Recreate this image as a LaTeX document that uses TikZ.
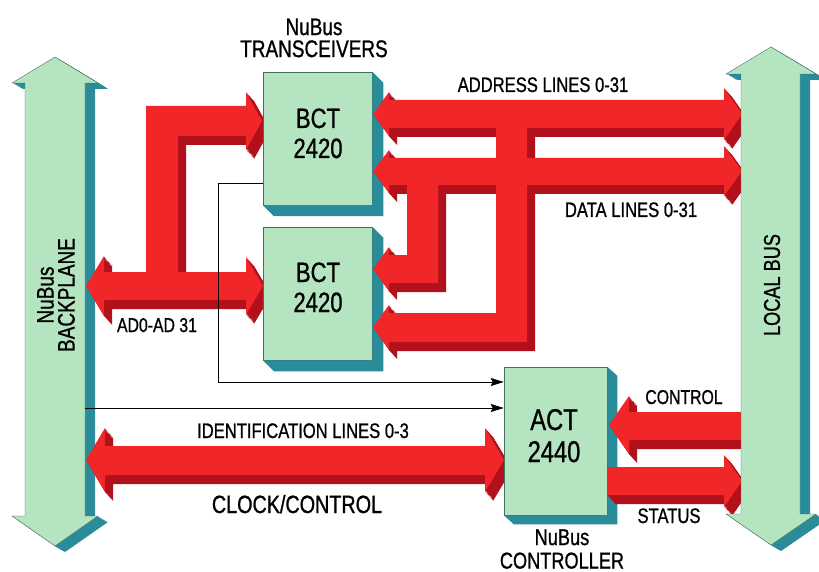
\documentclass[tikz,border=0pt]{standalone}
\usepackage{fontspec}
\setmainfont{Liberation Sans}[FakeStretch=0.79,FakeBold=0.9]
\usetikzlibrary{arrows.meta}
\definecolor{gfront}{RGB}{180,229,192}
\definecolor{gside}{RGB}{42,140,152}
\definecolor{rfront}{RGB}{240,38,40}
\definecolor{rside}{RGB}{178,16,26}
\definecolor{gedge}{RGB}{70,110,90}
\newcommand{\fs}[2]{\fontsize{#1}{#2}\selectfont}
% extruded filled shape: #1 path, #2 side colour, #3 front colour, #4 dx, #5 dy
\newcommand{\extrude}[5]{%
  \foreach \k in {1,...,10}{\fill[#2] [shift={(\k*#4/10,\k*#5/10)}] #1;}
  \fill[#3] #1;}
\newcommand{\shadowonly}[3]{%
  \foreach \k in {1,...,10}{\fill[rside] [shift={(\k*#2/10,\k*#3/10)}] #1;}}
\begin{document}
\begin{tikzpicture}[x=1pt,y=-1pt,
  lab/.style={inner sep=0pt,anchor=base,font=\fs{21}{21}},
  chip/.style={draw=gedge,line width=0.5pt,fill=gfront,inner sep=0pt},
  sig/.style={draw=black,line width=0.6pt,-{Stealth[length=13pt,width=8pt,inset=2pt]}}]
\useasboundingbox (0,0) rectangle (819,572);
\fill[white] (0,0) rectangle (819,572);

% ---------- shapes ----------
\def\bpfront{(55,57) -- (98,83) -- (85,83) -- (85,516) -- (98,516) -- (55,546) -- (12,516) -- (25,516) -- (25,83) -- (12,83) -- cycle}
\def\lbfront{(771,47) -- (816,74) -- (800,74) -- (800,514) -- (816,514) -- (771,545) -- (726,514) -- (741,514) -- (741,74) -- (726,74) -- cycle}
\def\busAD{(86,286) -- (104,256) -- (104,272) -- (146,272) -- (146,106) -- (246,106) -- (246,92) -- (262,121) -- (246,150) -- (246,136) -- (178,136) -- (178,272) -- (246,272) -- (246,257) -- (263,286) -- (246,315) -- (246,300) -- (104,300) -- (104,316) -- cycle}
\def\busID{(86,460) -- (105,428) -- (105,446) -- (485,446) -- (485,428) -- (504,460) -- (485,492) -- (485,475) -- (105,475) -- (105,492) -- cycle}
\def\busADDR{(373,114) -- (389,92) -- (389,100) -- (724,100) -- (724,88) -- (742,114) -- (724,140) -- (724,128) -- (527,128) -- (527,342) -- (389,342) -- (389,350) -- (373,327) -- (389,305) -- (389,313) -- (496,313) -- (496,128) -- (389,128) -- (389,136) -- cycle}
\def\busDATA{(373,171) -- (389,150) -- (389,158) -- (724,158) -- (724,146) -- (742,171) -- (724,196) -- (724,185) -- (438,185) -- (438,283) -- (389,283) -- (389,291) -- (373,269) -- (389,247) -- (389,255) -- (407,255) -- (407,185) -- (389,185) -- (389,193) -- cycle}
\def\busCTRL{(609,425) -- (629,396) -- (629,412) -- (742,412) -- (742,440) -- (629,440) -- (629,454) -- cycle}
\def\busSTAT{(607,467) -- (724,467) -- (724,455) -- (742,481) -- (724,507) -- (724,495) -- (607,495) -- cycle}

% NuBus backplane
\extrude{\bpfront}{gside}{gfront}{10}{6}
\draw[gedge,line width=0.4pt] \bpfront;

% AD bus and identification / clock bus
\extrude{\busAD}{rside}{rfront}{8}{9}
\extrude{\busID}{rside}{rfront}{8}{9}

% chips
\node[chip,minimum width=109pt,minimum height=133pt] (bct1) at (317.5,138.5) {};
\node[chip,minimum width=109pt,minimum height=133pt] (bct2) at (317.5,293.5) {};
\node[chip,minimum width=103pt,minimum height=148pt] (act) at (555.5,441) {};
\foreach \n/\dx/\dy in {bct1/11/11,bct2/11/11,act/10/9}{
  \fill[gside] (\n.north east) -- ++(\dx,\dy) -- ([shift={(\dx,\dy)}]\n.south east)
    -- ([shift={(\dx,\dy)}]\n.south west) -- (\n.south west) -- (\n.south east) -- cycle;
}

% address and data buses
\shadowonly{\busDATA}{8}{9}
\shadowonly{\busADDR}{8}{9}
\fill[rfront] \busADDR;
\fill[rfront] \busDATA;

% control and status
\extrude{\busCTRL}{rside}{rfront}{8}{9}
\extrude{\busSTAT}{rside}{rfront}{8}{9}

% local bus
\extrude{\lbfront}{gside}{gfront}{10}{6}
\draw[gedge,line width=0.4pt] \lbfront;

% thin signal lines
\coordinate (l1s) at (263,183);
\coordinate (l1c) at (218,382);
\coordinate (l2s) at (85,408);
\draw[sig] (l1s) -| (l1c) -- (act.west |- l1c);
\draw[sig] (l2s) -- (act.west |- l2s);

% ---------- texts ----------
\node[inner sep=0pt,anchor=south,align=center,font=\fs{24}{22}] (trx) at (314,57.5) {NuBus\\TRANSCEIVERS};
\node[lab,font=\fs{28}{30}] (b1a) at (318,128) {BCT};
\node[lab,font=\fs{28}{30}] (b1b) at (318,158) {2420};
\node[lab,font=\fs{28}{30}] (b2a) at (318,282) {BCT};
\node[lab,font=\fs{28}{30}] (b2b) at (318,312) {2420};
\node[lab,font=\fs{30}{32}] (a1) at (554,430) {ACT};
\node[lab,font=\fs{30}{32}] (a2) at (554,462) {2440};
\node[lab] (addr) at (543,92) {ADDRESS LINES 0-31};
\node[lab] (data) at (631,217) {DATA LINES 0-31};
\node[lab,font=\fs{20}{20}] (ad) at (157,332) {AD0-AD 31};
\node[lab] (idl) at (303,438) {IDENTIFICATION LINES 0-3};
\node[lab,font=\fs{25}{25}] (clk) at (297,513) {CLOCK/CONTROL};
\node[lab,font=\fs{20}{20}] (ctl) at (684,404) {CONTROL};
\node[lab] (sts) at (669,523) {STATUS};
\node[inner sep=0pt,anchor=south,align=center,font=\fs{23}{23.5}] (ctrlr) at (562,569) {NuBus\\CONTROLLER};
\node[inner sep=0pt,rotate=90,align=center,font=\fs{24}{21}] (bpt) at (56,295) {NuBus\\BACKPLANE};
\node[inner sep=0pt,rotate=90,font=\fs{23}{23}] (lbt) at (772,285) {LOCAL BUS};
\end{tikzpicture}
\end{document}
